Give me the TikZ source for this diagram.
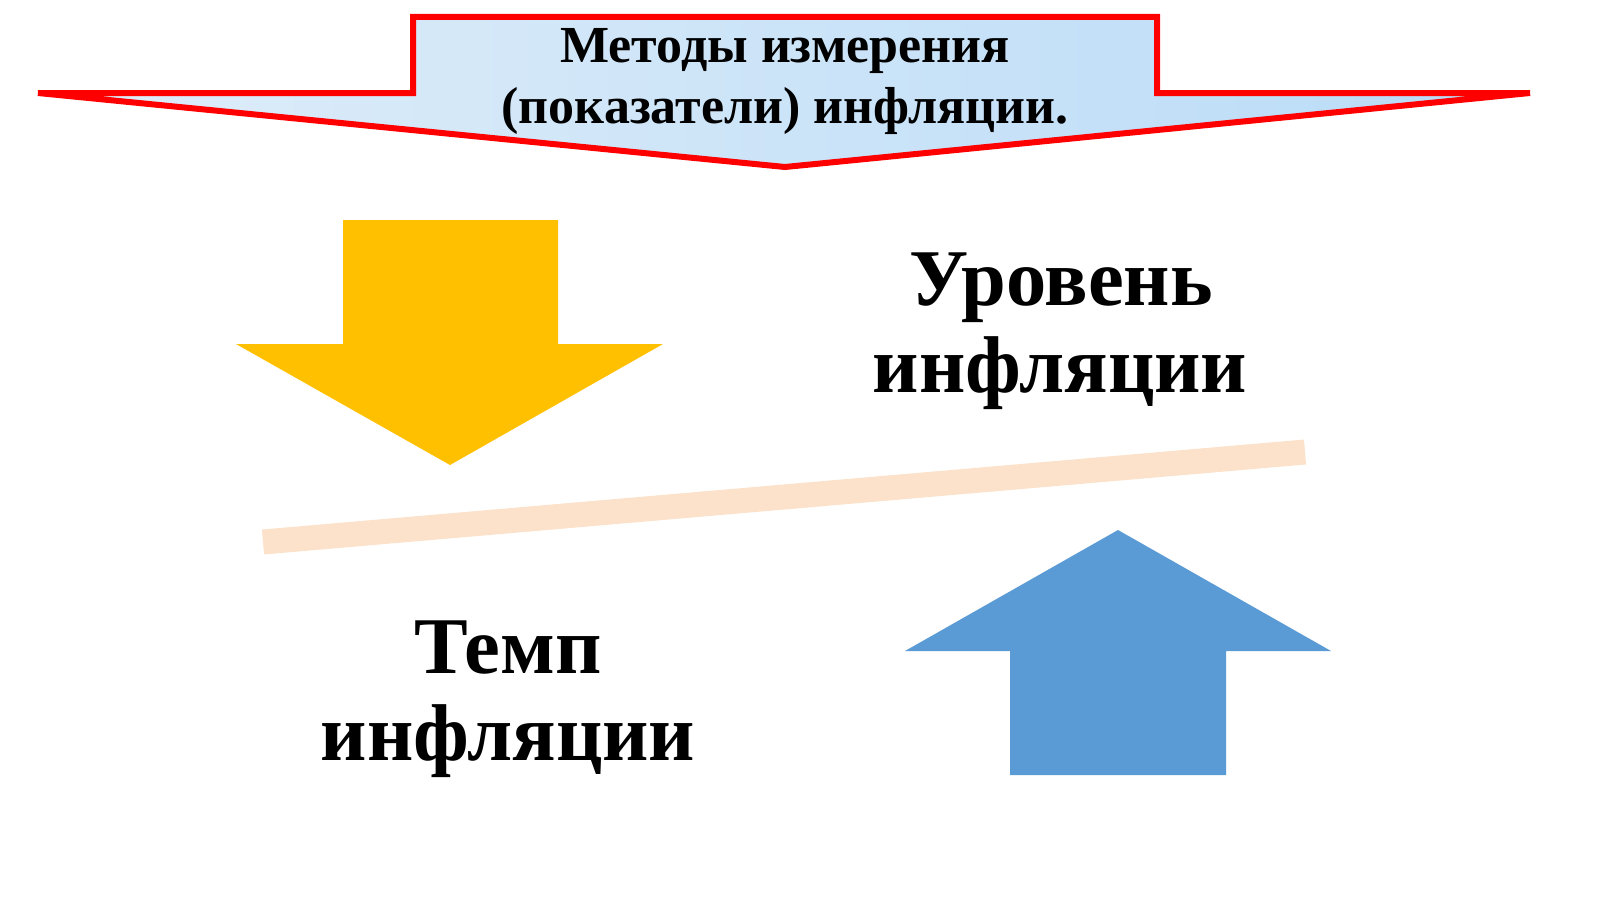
\documentclass[tikz,border=0pt]{standalone}
\usepackage{fontspec}
\setmainfont{Liberation Serif}
\definecolor{bannerred}{HTML}{FF0000}
\definecolor{bannerL}{HTML}{DFEDF9}
\definecolor{bannerR}{HTML}{B9DBF7}
\definecolor{arrowyellow}{HTML}{FFC000}
\definecolor{arrowblue}{HTML}{5B9BD5}
\definecolor{peach}{HTML}{FCE2CA}
\tikzset{
  titletext/.style={font=\bfseries\fontsize{52}{60}\selectfont, anchor=base, inner sep=0pt},
  bigtext/.style={font=\bfseries\fontsize{80.5}{88}\selectfont, anchor=base, inner sep=0pt},
}
\begin{document}
\begin{tikzpicture}[x=1pt,y=-1pt]
\useasboundingbox (0,0) rectangle (1600,899);
\fill[white] (0,0) rectangle (1600,899);
% banner
\shade[left color=bannerL, right color=bannerR]
  (38,93) -- (413,93) -- (413,17) -- (1157,17) -- (1157,93) -- (1530,93) -- (785,167) -- cycle;
\draw[bannerred, line width=6pt, line join=miter]
  (38,93) -- (413,93) -- (413,17) -- (1157,17) -- (1157,93) -- (1530,93) -- (785,167) -- cycle;
\node[titletext] (t1) at (785,63) {Методы измерения};
\node[titletext] (t2) at (785,123) {(показатели) инфляции.};
% yellow down arrow
\fill[arrowyellow] (343,220) -- (558,220) -- (558,344) -- (663,344) -- (450,465) -- (236,344) -- (343,344) -- cycle;
% blue up arrow
\fill[arrowblue] (1010,775) -- (1226,775) -- (1226,651) -- (1331,651) -- (1118,530) -- (905,651) -- (1010,651) -- cycle;
% separator line
\coordinate (la) at (263,542);
\coordinate (lb) at (1305,452);
\draw[peach, line width=25pt] (la) -- (lb);
% texts
\node[bigtext] (u1) at (1061,305) {Уровень};
\node[bigtext] (u2) at (1060,392) {инфляции};
\node[bigtext] (p1) at (508,673) {Темп};
\node[bigtext] (p2) at (508,760) {инфляции};
\end{tikzpicture}
\end{document}
